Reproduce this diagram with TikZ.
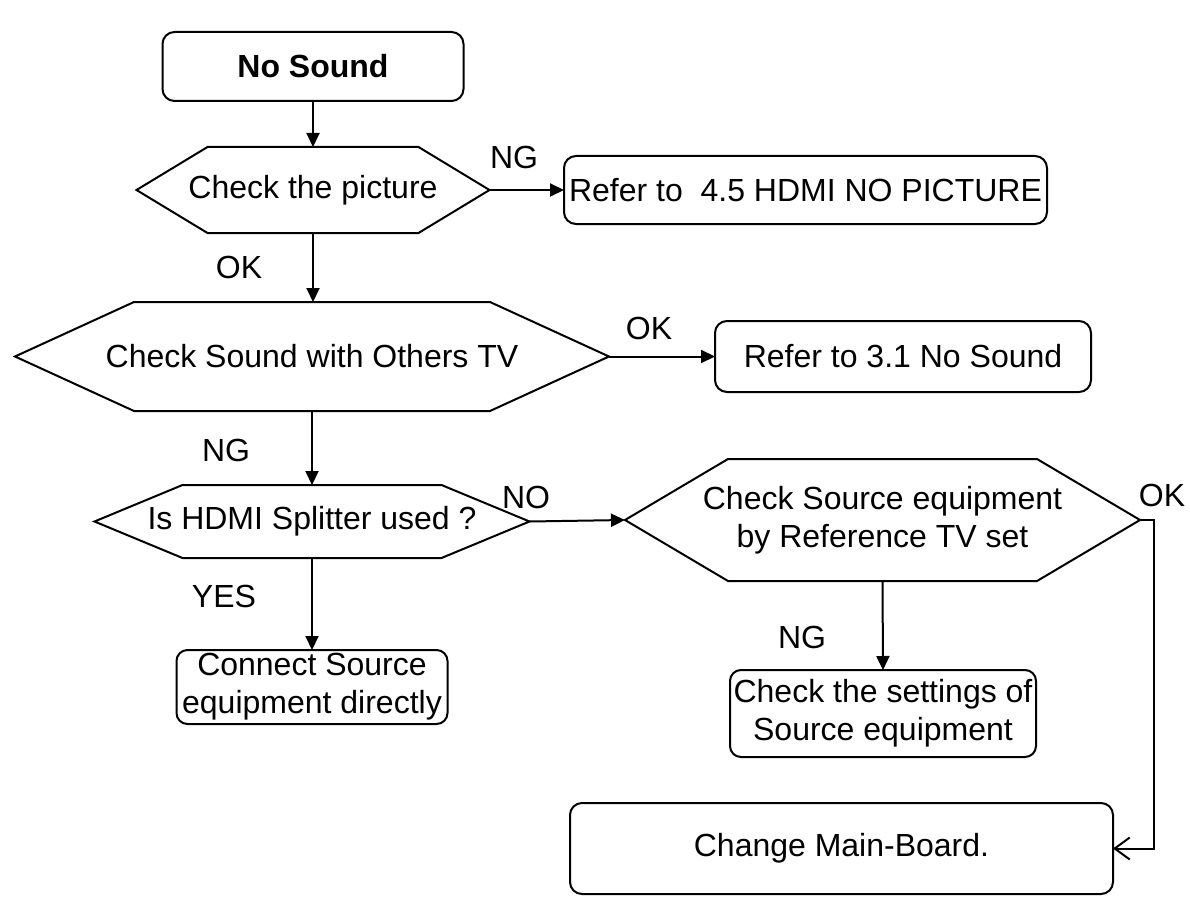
\documentclass[tikz,border=0pt]{standalone}
\usepackage{fontspec}
\setmainfont{Liberation Sans}
\usetikzlibrary{arrows.meta,calc}
\begin{document}
\begin{tikzpicture}[x=1pt,y=-1pt,
  lw/.style={line width=2pt},
  every node/.style={font=\fontsize{32}{38}\selectfont, inner sep=0pt, outer sep=0pt},
  rbox/.style={draw, lw, rounded corners=12pt, align=center},
  hexnode/.style={align=center},
  arr/.style={lw, -{Triangle[length=14pt,width=13pt]}},
  barb/.style={lw, -{Straight Barb[length=15pt,width=22pt]}},
  ]
\useasboundingbox (0,0) rectangle (1190,896);

% boxes
\node[rbox, minimum width=301pt, minimum height=69pt] (nosound) at (313,66.5) {\bfseries No Sound};
\node[rbox, minimum width=483pt, minimum height=68pt] (r45) at (805.5,190) {Refer to\ \ 4.5 HDMI NO PICTURE};
\node[rbox, minimum width=376pt, minimum height=71pt] (r31) at (903,356.5) {Refer to 3.1 No Sound};
\node[rbox, rounded corners=11pt, minimum width=271pt, minimum height=74pt] (conn) at (312,687) {Connect Source\\equipment directly};
\node[rbox, rounded corners=11pt, minimum width=306pt, minimum height=87pt] (sett) at (883,713.5) {Check the settings of\\Source equipment};
\node[rbox, minimum width=543pt, minimum height=91pt] (chg) at (841.5,848.5) {Change Main-Board.};

% hexagon decisions
\node[hexnode, minimum width=353pt, minimum height=86pt] (h1) at (313,190) {Check the picture};
\draw[lw] (h1.west) -- ($(h1.north west)+(71,0)$) -- ($(h1.north east)+(-71,0)$) -- (h1.east)
  -- ($(h1.south east)+(-71,0)$) -- ($(h1.south west)+(71,0)$) -- cycle;

\node[hexnode, minimum width=594pt, minimum height=109pt] (h2) at (312,356.5) {Check Sound with Others TV};
\draw[lw] (h2.west) -- ($(h2.north west)+(119,0)$) -- ($(h2.north east)+(-119,0)$) -- (h2.east)
  -- ($(h2.south east)+(-119,0)$) -- ($(h2.south west)+(119,0)$) -- cycle;

\node[hexnode, minimum width=435pt, minimum height=73pt] (h3) at (312,521.5) {Is HDMI Splitter used ?};
\draw[lw] (h3.west) -- ($(h3.north west)+(88,0)$) -- ($(h3.north east)+(-88,0)$) -- (h3.east)
  -- ($(h3.south east)+(-88,0)$) -- ($(h3.south west)+(88,0)$) -- cycle;

\node[hexnode, minimum width=515pt, minimum height=122pt] (h4) at (882.5,520) {Check Source equipment\\by Reference TV set};
\draw[lw] (h4.west) -- ($(h4.north west)+(103,0)$) -- ($(h4.north east)+(-103,0)$) -- (h4.east)
  -- ($(h4.south east)+(-103,0)$) -- ($(h4.south west)+(103,0)$) -- cycle;

% connectors
\draw[arr] (nosound.south) -- (h1.north);
\draw[arr] (h1.east) -- (r45.west);
\draw[arr] (h1.south) -- (h2.north -| h1.south);
\draw[arr] (h2.east) -- (r31.west);
\draw[arr] (h2.south) -- (h3.north);
\draw[arr] (h3.south) -- (conn.north);
\draw[arr] (h3.east) -- (h4.west);
\draw[arr] (h4.south) -- (sett.north);
\coordinate (bend) at (1154,520);
\draw[barb] (h4.east) -- (bend) |- (chg.east);

% labels
\node (lng1) at (514,157) {NG};
\node (lok1) at (239,267) {OK};
\node (lok2) at (649,328) {OK};
\node (lng2) at (226,450) {NG};
\node (lno) at (526,497) {NO};
\node (lyes) at (224,596) {YES};
\node (lng3) at (802,637) {NG};
\node (lok3) at (1162,495) {OK};
\end{tikzpicture}
\end{document}
